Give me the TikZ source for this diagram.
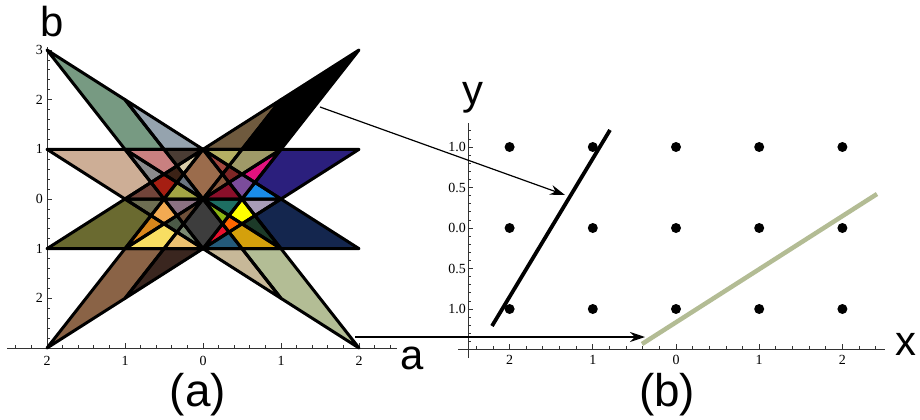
\documentclass[tikz,border=0pt]{standalone}
\usepackage{fontspec}
\setmainfont{Liberation Serif}
\newfontfamily\labfont{Liberation Sans}
\usetikzlibrary{arrows.meta}
\pgfdeclarelayer{bg}
\pgfsetlayers{bg,main}
\newcommand\face[2]{%
  \begin{pgfonlayer}{bg}\definecolor{facefill}{HTML}{#1}\fill[facefill] #2 -- cycle;\end{pgfonlayer}%
  \draw[faceedge] #2 -- cycle;}
\begin{document}
\begin{tikzpicture}[x=1bp,y=1bp,
  faceedge/.style={draw=black,line width=3bp,line join=round},
  axisline/.style={line width=0.8bp,black!80},
  ticklab/.style={font=\fontsize{14}{14}\selectfont,inner sep=0pt},
  biglab/.style={font=\labfont\fontsize{42}{42}\selectfont,inner sep=0pt},
  panlab/.style={font=\labfont\fontsize{46}{46}\selectfont,inner sep=0pt},
  conn/.style={line width=1.2bp,-{Stealth[length=15bp,width=10bp]}},
  dot/.style={circle,fill=black,inner sep=0pt,minimum size=10bp}]
\useasboundingbox (0,0) rectangle (920,419);

% ---------------- plot (a): axes ----------------
\draw[axisline] (7,71) -- (397,71);
\draw[axisline] (47,71) -- (47,372);
\foreach \k in {-12,...,12}{
  \pgfmathsetmacro\len{mod(\k,5)==0 ? 5 : 3}
  \draw[axisline] ({203+15.6*\k},71) -- ++(0,\len);}
\foreach \k in {-15,...,15}{
  \pgfmathsetmacro\len{mod(\k,5)==0 ? 5 : 3}
  \draw[axisline] (47,{220+9.934*\k}) -- ++(\len,0);}
\foreach \v/\t [count=\n] in {-2/2,-1/1,0/0,1/1,2/2}
  \node[ticklab] (xa\n) at ({203+78*\v},58) {\t};
\foreach \v/\t [count=\n] in {3/3,2/2,1/1,0/0,-1/1,-2/2}
  \node[ticklab,anchor=east] (ya\n) at (43,{220+49.67*\v}) {\t};

% ---------------- plot (a): faces ----------------
\begin{scope}[shift={(203,220)},xscale=78,yscale=49.67]
% upper left
\face{779A82}{(-2,3) -- (-1,2) -- (-0.5,1) -- (-1,1)}
\face{CDAE96}{(-2,1) -- (-1,1) -- (-0.66667,0.33333) -- (-1,0)}
\face{95A3AE}{(-1,2) -- (0,1) -- (-0.5,1)}
\face{71443A}{(-1,0) -- (-0.66667,0.33333) -- (-0.5,0)}
\face{8A8B8D}{(-1,1) -- (-0.66667,0.33333) -- (-0.5,0.5)}
\face{C98080}{(-1,1) -- (-0.5,1) -- (-0.33333,0.66667) -- (-0.5,0.5)}
\face{A51E12}{(-0.66667,0.33333) -- (-0.5,0.5) -- (-0.33333,0.33333) -- (-0.5,0)}
\face{A3A444}{(-0.5,0) -- (-0.33333,0.33333) -- (0,0)}
\face{3C2216}{(-0.5,0.5) -- (-0.33333,0.66667) -- (-0.25,0.5) -- (-0.33333,0.33333)}
\face{4A3C34}{(-0.5,1) -- (0,1) -- (-0.33333,0.66667)}
\face{6B7580}{(-0.33333,0.33333) -- (-0.25,0.5) -- (0,0)}
\face{D8CCA8}{(-0.33333,0.66667) -- (-0.25,0.5) -- (0,1)}
\face{9B6C4C}{(0,0) -- (-0.25,0.5) -- (0,1) -- (0.25,0.5)}
% upper right
\face{000000}{(2,3) -- (1,2) -- (0.5,1) -- (1,1)}
\face{2B1F7D}{(2,1) -- (1,1) -- (0.66667,0.33333) -- (1,0)}
\face{6F5A3E}{(1,2) -- (0,1) -- (0.5,1)}
\face{1A8CE8}{(1,0) -- (0.66667,0.33333) -- (0.5,0)}
\face{E2127E}{(1,1) -- (0.66667,0.33333) -- (0.5,0.5)}
\face{9F9A68}{(1,1) -- (0.5,1) -- (0.33333,0.66667) -- (0.5,0.5)}
\face{7B4C9B}{(0.66667,0.33333) -- (0.5,0.5) -- (0.33333,0.33333) -- (0.5,0)}
\face{8A0F2A}{(0.5,0) -- (0.33333,0.33333) -- (0,0)}
\face{7E2626}{(0.5,0.5) -- (0.33333,0.66667) -- (0.25,0.5) -- (0.33333,0.33333)}
\face{B5AF63}{(0.5,1) -- (0,1) -- (0.33333,0.66667)}
\face{8B5B3E}{(0.33333,0.33333) -- (0.25,0.5) -- (0,0)}
\face{A3483F}{(0.33333,0.66667) -- (0.25,0.5) -- (0,1)}
% lower left
\face{8A6346}{(-2,-3) -- (-1,-2) -- (-0.5,-1) -- (-1,-1)}
\face{6A6A30}{(-2,-1) -- (-1,-1) -- (-0.66667,-0.33333) -- (-1,0)}
\face{3A261F}{(-1,-2) -- (0,-1) -- (-0.5,-1)}
\face{6E6E52}{(-1,0) -- (-0.66667,-0.33333) -- (-0.5,0)}
\face{D8861C}{(-1,-1) -- (-0.66667,-0.33333) -- (-0.5,-0.5)}
\face{F8DE62}{(-1,-1) -- (-0.5,-1) -- (-0.33333,-0.66667) -- (-0.5,-0.5)}
\face{F2AA52}{(-0.66667,-0.33333) -- (-0.5,-0.5) -- (-0.33333,-0.33333) -- (-0.5,0)}
\face{8B7283}{(-0.5,0) -- (-0.33333,-0.33333) -- (0,0)}
\face{4B5A47}{(-0.5,-0.5) -- (-0.33333,-0.66667) -- (-0.25,-0.5) -- (-0.33333,-0.33333)}
\face{EBC170}{(-0.5,-1) -- (0,-1) -- (-0.33333,-0.66667)}
\face{6E5039}{(-0.33333,-0.33333) -- (-0.25,-0.5) -- (0,0)}
\face{7C8A72}{(-0.33333,-0.66667) -- (-0.25,-0.5) -- (0,-1)}
\face{3D3D3D}{(0,0) -- (-0.25,-0.5) -- (0,-1) -- (0.25,-0.5)}
% lower right
\face{B3BD95}{(2,-3) -- (1,-2) -- (0.5,-1) -- (1,-1)}
\face{14264E}{(2,-1) -- (1,-1) -- (0.66667,-0.33333) -- (1,0)}
\face{C7B898}{(1,-2) -- (0,-1) -- (0.5,-1)}
\face{A89CB8}{(1,0) -- (0.66667,-0.33333) -- (0.5,0)}
\face{1C3A28}{(1,-1) -- (0.66667,-0.33333) -- (0.5,-0.5)}
\face{D4A00C}{(1,-1) -- (0.5,-1) -- (0.33333,-0.66667) -- (0.5,-0.5)}
\face{FFFF00}{(0.66667,-0.33333) -- (0.5,-0.5) -- (0.33333,-0.33333) -- (0.5,0)}
\face{1E6E62}{(0.5,0) -- (0.33333,-0.33333) -- (0,0)}
\face{FF6600}{(0.5,-0.5) -- (0.33333,-0.66667) -- (0.25,-0.5) -- (0.33333,-0.33333)}
\face{245A7A}{(0.5,-1) -- (0,-1) -- (0.33333,-0.66667)}
\face{8CB414}{(0.33333,-0.33333) -- (0.25,-0.5) -- (0,0)}
\face{E8102E}{(0.33333,-0.66667) -- (0.25,-0.5) -- (0,-1)}
\end{scope}

% ---------------- plot (b): axes ----------------
\draw[axisline] (458,70) -- (885,70);
\draw[axisline] (468,61) -- (468,296);
\foreach \k in {-12,...,12}{
  \pgfmathsetmacro\len{mod(\k,5)==0 ? 5 : 3}
  \draw[axisline] ({676+16.64*\k},70) -- ++(0,\len);}
\foreach \k in {-15,...,12}{
  \pgfmathsetmacro\len{mod(\k,5)==0 ? 5 : 3}
  \draw[axisline] (468,{191+8.1*\k}) -- ++(\len,0);}
\foreach \v/\t [count=\n] in {-2/2,-1/1,0/0,1/1,2/2}
  \node[ticklab] (xb\n) at ({676+83.2*\v},59) {\t};
\foreach \v/\t [count=\n] in {1/1.0,0.5/0.5,0/0.0,-0.5/0.5,-1/1.0}
  \node[ticklab,anchor=east] (yb\n) at (466,{191+81*\v}) {\t};

% lattice points
\begin{scope}[shift={(676,191)},xscale=83.2,yscale=81]
\foreach \i in {-2,...,2}
  \foreach \j in {-1,0,1}
    \node[dot] (p\i\j) at (\i,\j) {};
\end{scope}

% lines in (b)
\definecolor{sage}{HTML}{B3BC94}
\coordinate (bl1) at (492,93);
\coordinate (bl2) at (610,289);
\draw[line width=3.8bp] (bl1) -- (bl2);
\coordinate (gl1) at (642,75);
\coordinate (gl2) at (877,225);
\draw[sage,line width=4.5bp] (gl1) -- (gl2);

% connectors
\coordinate (a1s) at (320,312);
\coordinate (a1e) at (565,224);
\draw[conn] (a1s) -- (a1e);
\coordinate (a2s) at (355,82);
\coordinate (a2e) at (645,82);
\draw[conn] (a2s) -- (a2e);

% big labels
\node[biglab] (lb) at (52,397) {b};
\node[biglab] (la) at (412,61) {a};
\node[biglab] (ly) at (473,321) {y};
\node[biglab] (lx) at (906,75) {x};
\node[panlab] (pa) at (198,24) {(a)};
\node[panlab] (pb) at (667,24) {(b)};
\end{tikzpicture}
\end{document}
